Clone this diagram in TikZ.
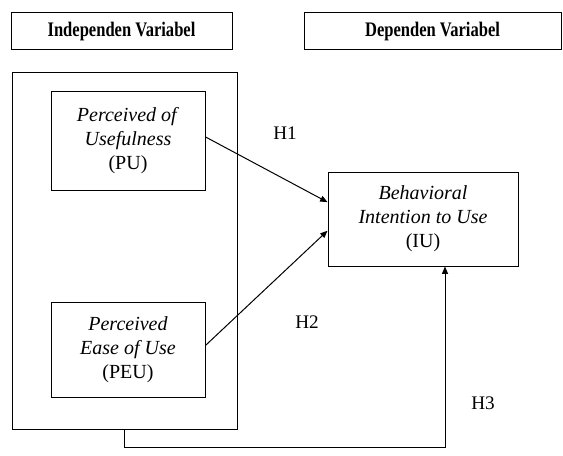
\documentclass[tikz,border=0pt]{standalone}
\usepackage{fontspec}
\setmainfont{Liberation Serif}
\newfontfamily\headfont[FakeStretch=0.8]{Liberation Serif}
\usetikzlibrary{arrows.meta}

\tikzset{
  varbox/.style={draw, line width=0.75pt, inner sep=0pt, align=center, font=\fontsize{15}{18}\selectfont},
  headbox/.style={draw, line width=0.75pt, inner sep=0pt, align=center, minimum height=27.75pt, font=\headfont\bfseries\fontsize{15.5}{18}\selectfont},
  hyp/.style={inner sep=0pt, font=\fontsize{14.4}{18}\selectfont},
  link/.style={line width=0.75pt, -{Triangle[length=5.5pt,width=4.5pt]}}
}

\begin{document}
\begin{tikzpicture}[x=0.75pt,y=0.75pt,yscale=-1,xscale=1]
\useasboundingbox (0,0) rectangle (563,456);

% Headers
\node[headbox, minimum width=165.75pt] (indep) at (121.5,31.5) {Independen Variabel};
\node[headbox, minimum width=192.75pt] (dep) at (432.5,31.5) {Dependen Variabel};

% Independent variables
\node[draw, line width=0.75pt, inner sep=0pt, minimum width=168.75pt, minimum height=267pt] (group) at (124.5,251) {};
\node[varbox, minimum width=115.5pt, minimum height=73.5pt] (pu) at (128,141) {\textit{Perceived of}\\\textit{Usefulness}\\(PU)};
\node[varbox, minimum width=115.5pt, minimum height=71.25pt] (peu) at (128,349.5) {\textit{Perceived}\\\textit{Ease of Use}\\(PEU)};

% Dependent variable
\node[varbox, minimum width=142.5pt, minimum height=70.5pt] (iu) at (423,219) {\textit{Behavioral}\\\textit{Intention to Use}\\(IU)};

% Hypotheses
\draw[link] (pu.3) -- (iu.170);
\draw[link] (peu.3) -- (iu.187);
\coordinate (corner) at (445,447);
\draw[link] (group.south) |- (corner) -- (corner |- iu.south);

\node[hyp] (h1) at (285,133) {H1};
\node[hyp] (h2) at (307,322) {H2};
\node[hyp] (h3) at (483,403) {H3};

\end{tikzpicture}
\end{document}
